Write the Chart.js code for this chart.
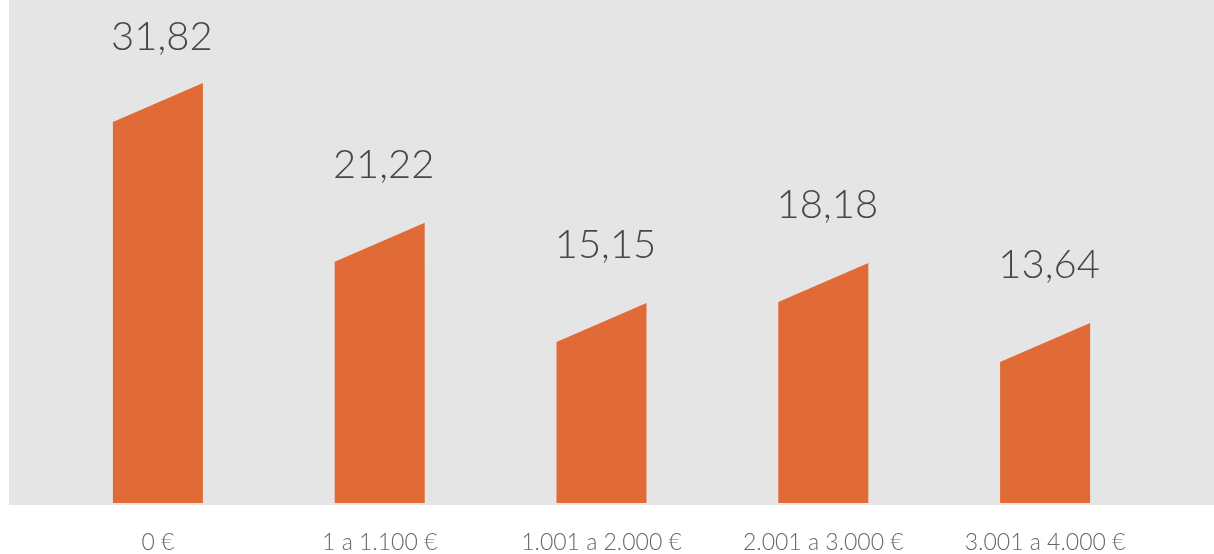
<!DOCTYPE html>
<html lang="es">
<head>
  <meta charset="UTF-8">
  <title>Ingresos</title>
  <script src="https://cdn.jsdelivr.net/npm/chart.js"></script>
  <style>
    body { margin: 0; background: #fff; }
    #chart { display: block; }
  </style>
</head>
<body>
  <canvas id="chart" width="1214" height="554"></canvas>

  <script>
    // categories and values (%)
    const labels = ['0 €', '1 a 1.100 €', '1.001 a 2.000 €', '2.001 a 3.000 €', '3.001 a 4.000 €'];
    const values = [31.82, 21.22, 15.15, 18.18, 13.64];
    const valueText = ['31,82', '21,22', '15,15', '18,18', '13,64'];

    const ORANGE = '#e06b36';
    const FONT = "'Lato', 'Open Sans', sans-serif";

    // grey panel behind the bars
    const panel = {
      id: 'panel',
      beforeDraw(chart) {
        const c = chart.ctx, a = chart.chartArea;
        c.save();
        c.fillStyle = '#e5e5e5';
        c.fillRect(9, 0, chart.width - 9, a.bottom + 2);
        c.restore();
      }
    };

    // bars with a slanted top + value labels
    const slantBars = {
      id: 'slantBars',
      afterDatasetsDraw(chart) {
        const c = chart.ctx;
        const meta = chart.getDatasetMeta(0);
        c.save();
        meta.data.forEach((bar, i) => {
          const l = bar.x - bar.width / 2, r = bar.x + bar.width / 2;
          c.fillStyle = ORANGE;
          c.beginPath();
          c.moveTo(l, bar.base);
          c.lineTo(l, bar.y + 39);
          c.lineTo(r, bar.y);
          c.lineTo(r, bar.base);
          c.closePath();
          c.fill();

          c.fillStyle = '#474747';
          c.font = '300 40px ' + FONT;
          c.textAlign = 'center';
          c.textBaseline = 'alphabetic';
          const y = Math.max(50, bar.y - 45);
          c.fillText(valueText[i], bar.x + 4, y);
        });
        c.restore();
      }
    };

    new Chart(document.getElementById('chart'), {
      type: 'bar',
      data: {
        labels: labels,
        datasets: [{
          data: values,
          backgroundColor: 'rgba(0,0,0,0)',
          barThickness: 90
        }]
      },
      options: {
        responsive: false,
        animation: false,
        layout: { padding: { left: 47, right: 58, top: 0, bottom: 0 } },
        plugins: { legend: { display: false }, tooltip: { enabled: false } },
        scales: {
          x: {
            grid: { display: false },
            border: { display: false },
            afterFit(scale) { scale.height = 51; },
            ticks: {
              padding: 18,
              color: '#666',
              font: { family: FONT, size: 23, weight: 300 },
              maxRotation: 0
            }
          },
          y: {
            display: false,
            min: 0,
            max: 38.1
          }
        }
      },
      plugins: [panel, slantBars]
    });
  </script>
</body>
</html>
